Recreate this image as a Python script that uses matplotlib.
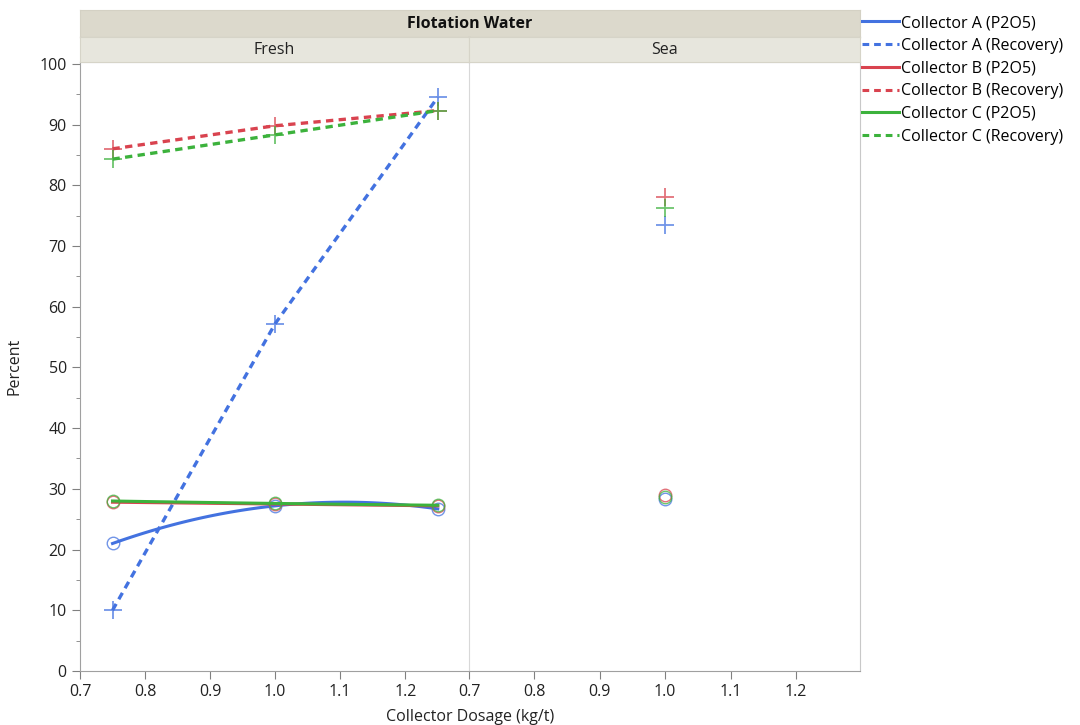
import numpy as np
import matplotlib.pyplot as plt
from matplotlib.ticker import MultipleLocator
from matplotlib.lines import Line2D

plt.rcParams['font.family'] = ['Open Sans', 'DejaVu Sans']

# Fresh water
dose_fresh = [0.75, 1.0, 1.25]
a_p2o5 = [21.0, 27.2, 26.7]
a_rec = [10.0, 57.2, 94.5]
b_p2o5 = [27.8, 27.5, 27.2]
b_rec = [86.0, 89.8, 92.3]
c_p2o5 = [28.0, 27.6, 27.3]
c_rec = [84.3, 88.3, 92.3]

# Sea water
dose_sea = [1.0]
sea_p2o5 = {'A': [28.4], 'B': [29.0], 'C': [28.6]}
sea_rec = {'A': [73.5], 'B': [78.0], 'C': [76.3]}

collectors = ['A', 'B', 'C']
colors = {'A': '#4372e0', 'B': '#d9434f', 'C': '#3cb23c'}
fresh_p2o5 = {'A': a_p2o5, 'B': b_p2o5, 'C': c_p2o5}
fresh_rec = {'A': a_rec, 'B': b_rec, 'C': c_rec}

fig = plt.figure(figsize=(10.8, 7.25), dpi=100)
L, R, B, T = 80 / 1080, 860 / 1080, 1 - 671 / 725, 1 - 62 / 725
mid = 469 / 1080
ax1 = fig.add_axes([L, B, mid - L, T - B])
ax2 = fig.add_axes([mid, B, R - mid, T - B], sharey=ax1)

for ax in (ax1, ax2):
    ax.set_xlim(0.7, 1.298)
    ax.set_ylim(0, 100.3)
    ax.yaxis.set_major_locator(MultipleLocator(10))
    ax.yaxis.set_minor_locator(MultipleLocator(5))
    ax.set_xticks(np.arange(0.7, 1.21, 0.1))
    ax.set_xticklabels(['0.7', '0.8', '0.9', '1.0', '1.1', '1.2'])
    for s in ax.spines.values():
        s.set_color('#c8c8c8')
    ax.spines['left'].set_color('#a0a0a0')
    ax.spines['bottom'].set_color('#a0a0a0')
    ax.tick_params(colors='#808080', labelcolor='#222222', labelsize=11.5, length=6)
    ax.tick_params(which='minor', colors='#808080', length=3)

ax2.tick_params(axis='y', which='both', left=False, labelleft=False)
ax2.spines['left'].set_color('#d8d8d8')
ax1.spines['right'].set_visible(False)

for c in collectors:
    col = colors[c]
    x = np.array(dose_fresh)
    # smooth curve through P2O5 points
    coef = np.polyfit(x, fresh_p2o5[c], 2)
    xs = np.linspace(x.min(), x.max(), 100)
    ax1.plot(xs, np.polyval(coef, xs), color=col, lw=2.2)
    ax1.plot(x, fresh_p2o5[c], 'o', mfc='none', mec=col, ms=9, alpha=0.75)
    ax1.plot(x, fresh_rec[c], '--', color=col, lw=2.4, dashes=(2.2, 1.6))
    ax1.plot(x, fresh_rec[c], '+', color=col, ms=13, mew=1.3, alpha=0.75)
    ax2.plot(dose_sea, sea_p2o5[c], 'o', mfc='none', mec=col, ms=9, alpha=0.75)
    ax2.plot(dose_sea, sea_rec[c], '+', color=col, ms=13, mew=1.3, alpha=0.75)

ax1.set_ylabel('Percent', fontsize=11.5, color='#222222', labelpad=12)
fig.text((L + R) / 2, 0.0, 'Collector Dosage (kg/t)', ha='center', va='bottom',
         fontsize=11.5, color='#222222')

# strip headers
top_strip = fig.add_axes([L, 1 - 37 / 725, R - L, 27 / 725])
top_strip.set_facecolor('#dcd9cc')
top_strip.set_xticks([]); top_strip.set_yticks([])
for s in top_strip.spines.values():
    s.set_color('#d4d1c4')
top_strip.text(0.5, 0.5, 'Flotation Water', ha='center', va='center', fontsize=11.5,
               fontweight='bold', color='#111111', transform=top_strip.transAxes)
for x0, x1, name in [(L, mid, 'Fresh'), (mid, R, 'Sea')]:
    st = fig.add_axes([x0, T, x1 - x0, 25 / 725])
    st.set_facecolor('#e7e6dd')
    st.set_xticks([]); st.set_yticks([])
    for s in st.spines.values():
        s.set_color('#d6d4c8')
    st.text(0.5, 0.5, name, ha='center', va='center', fontsize=11.5, color='#222222',
            transform=st.transAxes)

handles = []
labels = []
for c in collectors:
    handles.append(Line2D([], [], color=colors[c], lw=2.2))
    labels.append(f'Collector {c} (P2O5)')
    handles.append(Line2D([], [], color=colors[c], lw=2.2, ls='--', dashes=(2.2, 1.6)))
    labels.append(f'Collector {c} (Recovery)')
fig.legend(handles, labels, loc='upper left', bbox_to_anchor=(862 / 1080, 1 - 15 / 725),
           frameon=False, fontsize=11.5, handlelength=2.3, handletextpad=0.15,
           labelspacing=0.42, borderaxespad=0, borderpad=0)

fig.savefig('out.png', dpi=100)
